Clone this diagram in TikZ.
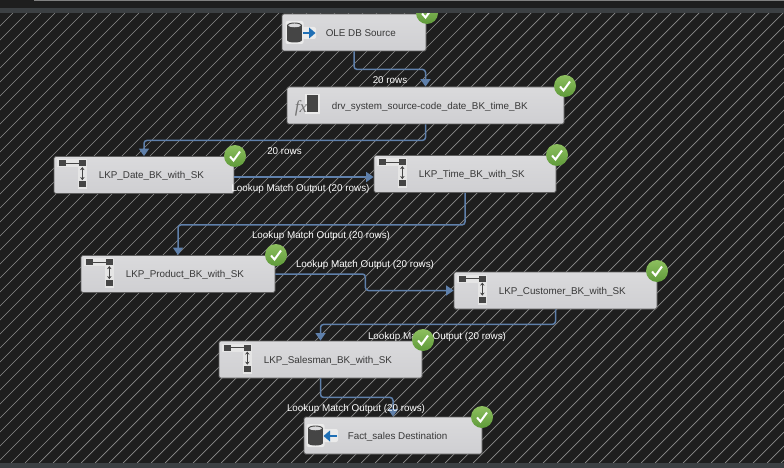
\documentclass[tikz,border=0pt]{standalone}
\usepackage{fontspec}
\setmainfont{Liberation Sans}
\newfontfamily\fxfont{Liberation Serif}
\usetikzlibrary{arrows.meta,positioning,calc}
\definecolor{canvasdark}{HTML}{1E1E1E}
\definecolor{barslate}{HTML}{3C4043}
\definecolor{hatchgray}{HTML}{8C8C8C}
\definecolor{flowblue}{HTML}{5F80AB}
\definecolor{boxtop}{HTML}{DADADC}
\definecolor{boxbottom}{HTML}{CFCFD2}
\definecolor{boxline}{HTML}{5E5E5E}
\definecolor{oklight}{HTML}{8DBF5F}
\definecolor{okdark}{HTML}{5F9A3A}
\definecolor{iconblue}{HTML}{1F6FB5}
\definecolor{icondark}{HTML}{454545}
\tikzset{
  flowbox/.style={draw=boxline,top color=boxtop,bottom color=boxbottom,line width=0.8pt,rounded corners=1.5pt,minimum height=37pt,inner sep=0pt},
  boxtext/.style={anchor=west,inner sep=0pt,yshift=-1pt,font=\fontsize{9.85}{12}\selectfont,text=black!78},
  flowlabel/.style={inner sep=0pt,yshift=-0.5pt,font=\fontsize{9.85}{12}\selectfont,text=white},
  flowline/.style={draw=flowblue,line width=1.5pt,rounded corners=3pt,-{Triangle[length=7.5pt,width=10pt]}},
  lkpicon/.pic={
    \fill[white!90!black] (3.5,3) rectangle (33.5,11);
    \fill[white!90!black] (24,3) rectangle (33.5,33);
    \fill[icondark] (5,4) rectangle (12,10);
    \fill[icondark] (25.5,4) rectangle (32,10);
    \fill[icondark] (25.5,25) rectangle (32,31);
    \draw[icondark,line width=1.2pt] (12,7) -- (25.5,7);
    \draw[icondark,line width=0.9pt,{Stealth[length=3pt,width=4.5pt]}-{Stealth[length=3pt,width=4.5pt]}] (28.7,11) -- (28.7,24);
  },
  okmark/.pic={
    \shade[top color=oklight,bottom color=okdark] (0,0) circle (11pt);
    \draw[white,line width=2pt] (-5,0.5) -- (-1.5,4.5) -- (5,-4.5);
  },
  dbcan/.pic={
    \fill[white!92!black,rounded corners=2pt] (-1.5,-2) rectangle (16.5,21);
    \fill[icondark] (0,2.5) rectangle (15,17);
    \fill[icondark] (7.5,17) ellipse (7.5pt and 2.5pt);
    \fill[boxtop] (7.5,2.5) ellipse (6.5pt and 2pt);
    \draw[icondark,line width=0.9pt] (7.5,2.5) ellipse (7pt and 2.5pt);
  },
}
\begin{document}
\begin{tikzpicture}[x=1pt,y=-1pt]
\useasboundingbox (0,0) rectangle (784,468);
\fill[canvasdark] (0,0) rectangle (784,468);

% hatched canvas
\begin{scope}
\clip (0,13) rectangle (784,463);
\foreach \s in {0,14,...,1260}
  \draw[hatchgray,line width=0.7pt] (\s-1,13) -- (\s-451,463);
\end{scope}

\node[flowbox,minimum width=144pt] (ole) at (354,32.5) {};
\node[flowbox,minimum width=277pt] (drv) at (425.5,105.5) {};
\node[flowbox,minimum width=180pt] (date) at (144,175) {};
\node[flowbox,minimum width=182pt] (lkptime) at (465,174) {};
\node[flowbox,minimum width=194pt] (product) at (178,274) {};
\node[flowbox,minimum width=203pt] (customer) at (555.5,290.5) {};
\node[flowbox,minimum width=203pt] (salesman) at (320.5,359.5) {};
\node[flowbox,minimum width=178pt] (fact) at (393,435.5) {};

\node[boxtext] (oletext) at ([xshift=44pt]ole.west) {OLE DB Source};
\node[boxtext] (drvtext) at ([xshift=45pt]drv.west) {drv\_system\_source-code\_date\_BK\_time\_BK};
\node[boxtext] (datetext) at ([xshift=45pt]date.west) {LKP\_Date\_BK\_with\_SK};
\node[boxtext] (timetext) at ([xshift=45pt]lkptime.west) {LKP\_Time\_BK\_with\_SK};
\node[boxtext] (producttext) at ([xshift=45pt]product.west) {LKP\_Product\_BK\_with\_SK};
\node[boxtext] (customertext) at ([xshift=45pt]customer.west) {LKP\_Customer\_BK\_with\_SK};
\node[boxtext] (salesmantext) at ([xshift=45pt]salesman.west) {LKP\_Salesman\_BK\_with\_SK};
\node[boxtext] (facttext) at ([xshift=44pt]fact.west) {Fact\_sales Destination};

% icons
\pic at (date.north west) {lkpicon};
\pic at (lkptime.north west) {lkpicon};
\pic at (product.north west) {lkpicon};
\pic at (customer.north west) {lkpicon};
\pic at (salesman.north west) {lkpicon};

\pic at (287,23) {dbcan};
\fill[white!92!black,rounded corners=2pt] (302,27) rectangle (316,39);
\draw[iconblue,line width=2.4pt] (303,33) -- (311,33);
\fill[iconblue] (315.5,33) -- (309,27.5) -- (309,38.5) -- cycle;

\pic at (308,426) {dbcan};
\fill[white!92!black,rounded corners=2pt] (323,429) rectangle (338,442);
\draw[iconblue,line width=2.4pt] (328,436) -- (337,436);
\fill[iconblue] (323.5,436) -- (330,430.5) -- (330,441.5) -- cycle;

\fill[white!92!black] (305,94) rectangle (319.5,114);
\fill[icondark] (307,95.5) rectangle (318,112);
\node[inner sep=0pt,text=black!55,font=\fxfont\itshape\fontsize{17}{17}\selectfont] (fxmark) at (301,108) {fx};

% connectors
\draw[flowline] (ole.south) -- ++(0,18) -| (drv.north);
\draw[flowline] (drv.south) -- ++(0,16) -| (date.north);
\draw[flowline] ([yshift=-2pt]date.east) -- ([yshift=-2pt]date.east -| lkptime.west);
\draw[flowline] (lkptime.south) -- ++(0,32) -| (product.north);
\draw[flowline] (product.east) -- ++(90,0) |- (customer.west);
\draw[flowline] (customer.south) -- ++(0,15) -| (salesman.north);
\draw[flowline] (salesman.south) -- ++(0,19) -| (fact.north);

% labels
\node[flowlabel] (rowsone) at (390,80) {20 rows};
\node[flowlabel] (rowstwo) at (284.5,151) {20 rows};
\node[flowlabel] (matchdate) at (300.5,188) {Lookup Match Output (20 rows)};
\node[flowlabel] (matchtime) at (321,235) {Lookup Match Output (20 rows)};
\node[flowlabel] (matchproduct) at (365,264) {Lookup Match Output (20 rows)};
\node[flowlabel] (matchcustomer) at (437,336) {Lookup Match Output (20 rows)};
\node[flowlabel] (matchsalesman) at (356,408) {Lookup Match Output (20 rows)};

% status marks
\pic at (427,13) {okmark};
\pic at (565,86) {okmark};
\pic at (235,156) {okmark};
\pic at (557,155) {okmark};
\pic at (276,255) {okmark};
\pic at (657,271) {okmark};
\pic at (423,340) {okmark};
\pic at (482,417) {okmark};

% window bars
\fill[barslate] (0,8) rectangle (784,13);
\fill[canvasdark] (0,0) rectangle (784,8);
\fill[gray] (34,0) rectangle (784,1);
\fill[barslate] (0,463) rectangle (784,468);
\end{tikzpicture}
\end{document}
